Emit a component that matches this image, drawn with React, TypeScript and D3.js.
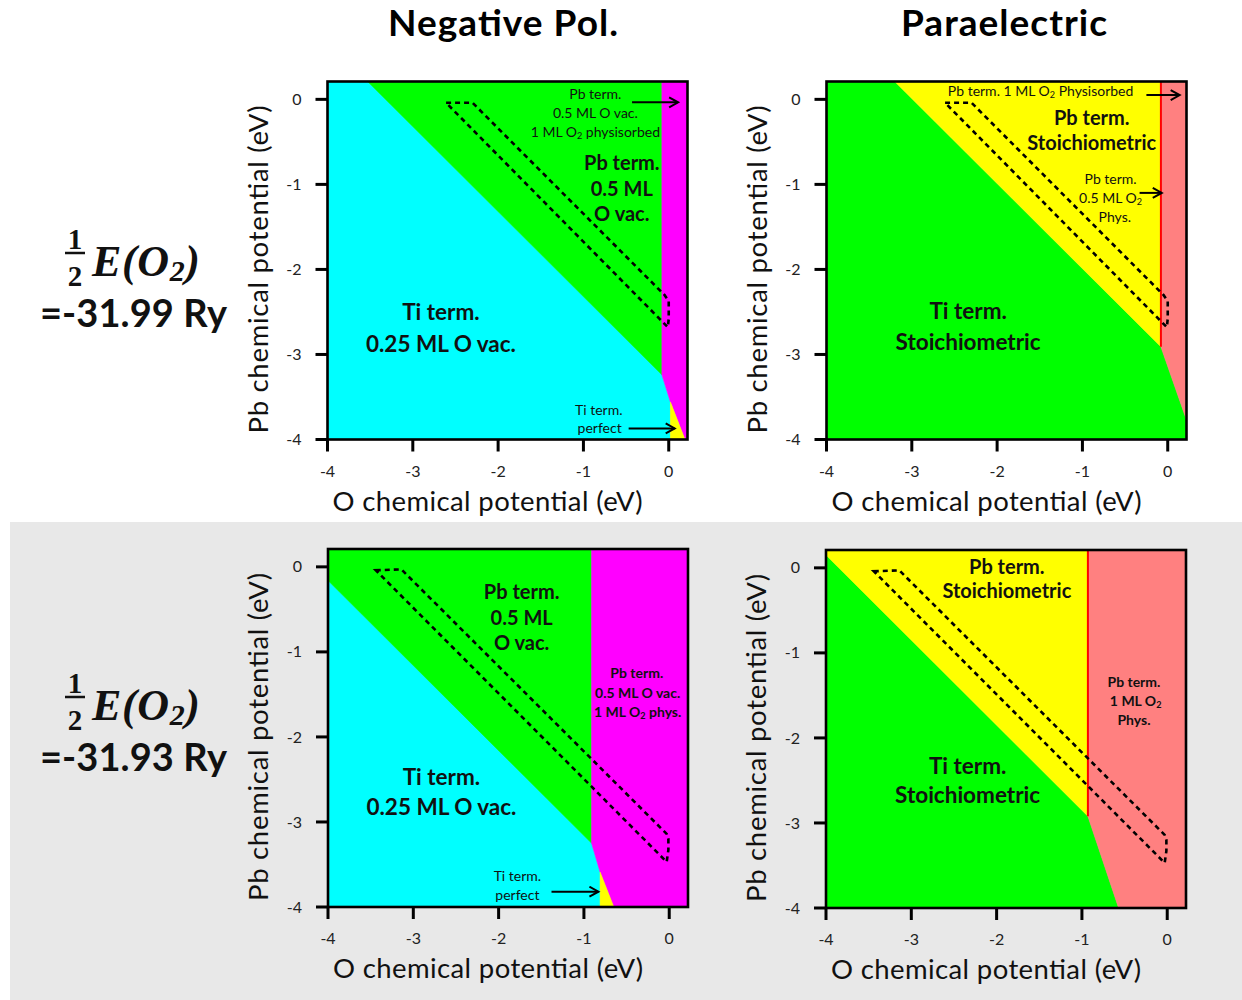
import * as d3 from 'd3'

type Pt = [number, number]

const X_TICKS = [-4, -3, -2, -1, 0]
const Y_TICKS = [-4, -3, -2, -1, 0]
const X_DOMAIN: Pt = [-4, 0.22]
const Y_DOMAIN: Pt = [-4, 0.21]

const COLUMN_TITLES = ['Negative Pol.', 'Paraelectric']
const O2_ENERGIES = ['=-31.99 Ry', '=-31.93 Ry']

const COLORS: Record<string, string> = {
  cyan: '#00FFFF',
  green: '#00FF00',
  magenta: '#FF00FF',
  yellow: '#FFFF00',
  salmon: '#FF8080',
}

// phase regions, points are [mu_O, mu_Pb] in eV
const NP_99_CYAN: Pt[] = [[-4, 0.21], [-3.53, 0.21], [-0.08, -3.24], [0.02, -3.56], [0.02, -4], [-4, -4]]
const NP_99_GREEN: Pt[] = [[-3.53, 0.21], [-0.08, 0.21], [-0.08, -3.24]]
const NP_99_MAGENTA: Pt[] = [[-0.08, 0.21], [0.22, 0.21], [0.22, -4], [0.19, -4], [0.02, -3.56], [-0.08, -3.24]]
const NP_99_YELLOW: Pt[] = [[0.02, -3.56], [0.19, -4], [0.02, -4]]

const PE_99_GREEN: Pt[] = [[-4, 0.21], [-3.2, 0.21], [-0.08, -2.91], [0.22, -3.77], [0.22, -4], [-4, -4]]
const PE_99_YELLOW: Pt[] = [[-3.2, 0.21], [-0.08, 0.21], [-0.08, -2.91]]
const PE_99_SALMON: Pt[] = [[-0.08, 0.21], [0.22, 0.21], [0.22, -3.77], [-0.08, -2.91]]
const PE_99_EDGE: Pt[] = [[-0.08, 0.21], [-0.08, -2.91]]

const NP_93_CYAN: Pt[] = [[-4, -0.16], [-0.91, -3.25], [-0.81, -3.59], [-0.81, -4], [-4, -4]]
const NP_93_GREEN: Pt[] = [[-4, 0.21], [-0.91, 0.21], [-0.91, -3.25], [-4, -0.16]]
const NP_93_MAGENTA: Pt[] = [[-0.91, 0.21], [0.22, 0.21], [0.22, -4], [-0.65, -4], [-0.81, -3.59], [-0.91, -3.25]]
const NP_93_YELLOW: Pt[] = [[-0.81, -3.59], [-0.65, -4], [-0.81, -4]]

const PE_93_GREEN: Pt[] = [[-4, 0.15], [-0.93, -2.92], [-0.57, -4], [-4, -4]]
const PE_93_YELLOW: Pt[] = [[-4, 0.21], [-0.93, 0.21], [-0.93, -2.92], [-4, 0.15]]
const PE_93_SALMON: Pt[] = [[-0.93, 0.21], [0.22, 0.21], [0.22, -4], [-0.57, -4], [-0.93, -2.92]]
const PE_93_EDGE: Pt[] = [[-0.93, 0.21], [-0.93, -2.92]]

// dashed stability window of bulk PbTiO3
const WINDOW_99: Pt[] = [[-2.61, -0.04], [-2.3, -0.04], [-0.05, -2.3], [0, -2.37], [0, -2.58], [-0.01, -2.68]]
const WINDOW_93: Pt[] = [[-3.44, -0.04], [-3.14, -0.03], [-0.03, -3.14], [-0.01, -3.2], [-0.01, -3.33], [-0.03, -3.47]]

type Label = { t: string; x: number; y: number; k: 'big' | 'mid' | 'small' | 'smallb' }
type Arrow = { x1: number; x2: number; y: number }

const NP_99_LABELS: Label[] = [
  { t: 'Pb term.', x: -0.86, y: 0.01, k: 'small' },
  { t: '0.5 ML O vac.', x: -0.86, y: -0.22, k: 'small' },
  { t: '1 ML O₂ physisorbed', x: -0.86, y: -0.44, k: 'small' },
  { t: 'Pb term.', x: -0.55, y: -0.83, k: 'mid' },
  { t: '0.5 ML', x: -0.55, y: -1.14, k: 'mid' },
  { t: 'O vac.', x: -0.55, y: -1.43, k: 'mid' },
  { t: 'Ti term.', x: -2.67, y: -2.6, k: 'big' },
  { t: '0.25 ML O vac.', x: -2.67, y: -2.97, k: 'big' },
  { t: 'Ti term.', x: -0.82, y: -3.71, k: 'small' },
  { t: 'perfect', x: -0.81, y: -3.92, k: 'small' },
]
const NP_99_ARROWS: Arrow[] = [
  { x1: -0.43, x2: 0.11, y: -0.035 },
  { x1: -0.47, x2: 0.07, y: -3.87 },
]

const PE_99_LABELS: Label[] = [
  { t: 'Pb term. 1 ML O₂ Physisorbed', x: -1.49, y: 0.04, k: 'small' },
  { t: 'Pb term.', x: -0.89, y: -0.3, k: 'mid' },
  { t: 'Stoichiometric', x: -0.89, y: -0.6, k: 'mid' },
  { t: 'Pb term.', x: -0.67, y: -0.99, k: 'small' },
  { t: '0.5 ML O₂', x: -0.67, y: -1.22, k: 'small' },
  { t: 'Phys.', x: -0.62, y: -1.44, k: 'small' },
  { t: 'Ti term.', x: -2.34, y: -2.58, k: 'big' },
  { t: 'Stoichiometric', x: -2.34, y: -2.95, k: 'big' },
]
const PE_99_ARROWS: Arrow[] = [
  { x1: -0.25, x2: 0.14, y: 0.05 },
  { x1: -0.33, x2: -0.07, y: -1.1 },
]

const NP_93_LABELS: Label[] = [
  { t: 'Pb term.', x: -1.73, y: -0.38, k: 'mid' },
  { t: '0.5 ML', x: -1.73, y: -0.68, k: 'mid' },
  { t: 'O vac.', x: -1.73, y: -0.98, k: 'mid' },
  { t: 'Pb term.', x: -0.38, y: -1.31, k: 'smallb' },
  { t: '0.5 ML O vac.', x: -0.37, y: -1.54, k: 'smallb' },
  { t: '1 ML O₂ phys.', x: -0.37, y: -1.76, k: 'smallb' },
  { t: 'Ti term.', x: -2.67, y: -2.57, k: 'big' },
  { t: '0.25 ML O vac.', x: -2.67, y: -2.92, k: 'big' },
  { t: 'Ti term.', x: -1.78, y: -3.7, k: 'small' },
  { t: 'perfect', x: -1.78, y: -3.92, k: 'small' },
]
const NP_93_ARROWS: Arrow[] = [{ x1: -1.38, x2: -0.83, y: -3.82 }]

const PE_93_LABELS: Label[] = [
  { t: 'Pb term.', x: -1.88, y: -0.07, k: 'mid' },
  { t: 'Stoichiometric', x: -1.88, y: -0.36, k: 'mid' },
  { t: 'Pb term.', x: -0.39, y: -1.4, k: 'smallb' },
  { t: '1 ML O₂', x: -0.37, y: -1.63, k: 'smallb' },
  { t: 'Phys.', x: -0.39, y: -1.85, k: 'smallb' },
  { t: 'Ti term.', x: -2.34, y: -2.42, k: 'big' },
  { t: 'Stoichiometric', x: -2.34, y: -2.77, k: 'big' },
]

const PANELS = [
  {
    left: 327.5, top: 81.5,
    regions: [
      { pts: NP_99_CYAN, c: 'cyan' }, { pts: NP_99_GREEN, c: 'green' },
      { pts: NP_99_MAGENTA, c: 'magenta' }, { pts: NP_99_YELLOW, c: 'yellow' },
    ],
    edge: null as Pt[] | null, window: WINDOW_99, labels: NP_99_LABELS, arrows: NP_99_ARROWS,
  },
  {
    left: 826.5, top: 81.5,
    regions: [
      { pts: PE_99_GREEN, c: 'green' }, { pts: PE_99_YELLOW, c: 'yellow' }, { pts: PE_99_SALMON, c: 'salmon' },
    ],
    edge: PE_99_EDGE, window: WINDOW_99, labels: PE_99_LABELS, arrows: PE_99_ARROWS,
  },
  {
    left: 328, top: 549,
    regions: [
      { pts: NP_93_CYAN, c: 'cyan' }, { pts: NP_93_GREEN, c: 'green' },
      { pts: NP_93_MAGENTA, c: 'magenta' }, { pts: NP_93_YELLOW, c: 'yellow' },
    ],
    edge: null, window: WINDOW_93, labels: NP_93_LABELS, arrows: NP_93_ARROWS,
  },
  {
    left: 826, top: 550,
    regions: [
      { pts: PE_93_GREEN, c: 'green' }, { pts: PE_93_YELLOW, c: 'yellow' }, { pts: PE_93_SALMON, c: 'salmon' },
    ],
    edge: PE_93_EDGE, window: WINDOW_93, labels: PE_93_LABELS, arrows: [] as Arrow[],
  },
]

const W = 360
const H = 358
const SANS = 'Lato, "Open Sans", sans-serif'
const SERIF = '"Liberation Serif", serif'

const LABEL_STYLE = {
  big: { size: 22.5, weight: 'bold' },
  mid: { size: 20, weight: 'bold' },
  small: { size: 14, weight: 'normal' },
  smallb: { size: 14, weight: 'bold' },
}

// split "O₂" so the 2 becomes a real subscript
function withSub(t: string, size: number) {
  const parts = t.split('₂')
  if (parts.length === 1) return t
  const out: any[] = []
  parts.forEach((s, i) => {
    if (s) out.push(<tspan key={'s' + i}>{s}</tspan>)
    if (i < parts.length - 1) {
      out.push(
        <tspan key={'b' + i} fontSize={size * 0.65} baselineShift="-20%">2</tspan>
      )
    }
  })
  return out
}

function Panel({ p }: { p: (typeof PANELS)[number] }) {
  const x = d3.scaleLinear().domain(X_DOMAIN).range([p.left, p.left + W])
  const y = d3.scaleLinear().domain(Y_DOMAIN).range([p.top + H, p.top])
  const line = d3.line<Pt>().x(d => x(d[0])).y(d => y(d[1]))
  const bottom = p.top + H

  return (
    <g>
      {p.regions.map((r, i) => (
        <path key={i} d={line(r.pts) + 'Z'} fill={COLORS[r.c]} stroke={COLORS[r.c]} strokeWidth={0.6} />
      ))}
      {p.edge && <path d={line(p.edge) || ''} stroke="#FF0000" strokeWidth={2} fill="none" />}
      <path d={line(p.window) + 'Z'} fill="none" stroke="#000" strokeWidth={2.6} strokeDasharray="5 4" />

      {p.labels.map((l, i) => {
        const st = LABEL_STYLE[l.k]
        return (
          <text key={i} x={x(l.x)} y={y(l.y)} textAnchor="middle" fontFamily={SANS}
            fontSize={st.size} fontWeight={st.weight} fill="#111">
            {withSub(l.t, st.size)}
          </text>
        )
      })}
      {p.arrows.map((a, i) => (
        <line key={i} x1={x(a.x1)} x2={x(a.x2)} y1={y(a.y)} y2={y(a.y)}
          stroke="#000" strokeWidth={2} markerEnd="url(#arrowhead)" />
      ))}

      <rect x={p.left} y={p.top} width={W} height={H} fill="none" stroke="#000" strokeWidth={2.6} />

      {X_TICKS.map(t => (
        <g key={'x' + t}>
          <line x1={x(t)} x2={x(t)} y1={bottom} y2={bottom + 12} stroke="#000" strokeWidth={3} />
          <text x={x(t)} y={bottom + 37} textAnchor="middle" fontFamily={SANS} fontSize={16} fill="#222">
            {t}
          </text>
        </g>
      ))}
      {Y_TICKS.map(t => (
        <g key={'y' + t}>
          <line x1={p.left - 12} x2={p.left} y1={y(t)} y2={y(t)} stroke="#000" strokeWidth={3} />
          <text x={p.left - 26} y={y(t)} dy="0.35em" textAnchor="end" fontFamily={SANS} fontSize={16} fill="#222">
            {t}
          </text>
        </g>
      ))}

      <text x={p.left + 160} y={bottom + 71} textAnchor="middle" fontFamily={SANS} fontSize={27.5}
        textLength={310} fill="#111">
        O chemical potential (eV)
      </text>
      <text transform={`translate(${p.left - 60},${p.top + 188}) rotate(-90)`} textAnchor="middle"
        fontFamily={SANS} fontSize={27.5} textLength={328} fill="#111">
        Pb chemical potential (eV)
      </text>
    </g>
  )
}

function O2Label({ bar, energy }: { bar: number; energy: string }) {
  return (
    <g fill="#111">
      <text x={75} y={bar - 4} textAnchor="middle" fontFamily={SERIF} fontWeight="bold" fontSize={29}>1</text>
      <line x1={65} x2={85} y1={bar} y2={bar} stroke="#111" strokeWidth={2.5} />
      <text x={75} y={bar + 33} textAnchor="middle" fontFamily={SERIF} fontWeight="bold" fontSize={29}>2</text>
      <text x={92} y={bar + 23} fontFamily={SERIF} fontWeight="bold" fontStyle="italic" fontSize={44}
        textLength={108}>
        E(O<tspan fontSize={30} baselineShift="-18%">2</tspan>)
      </text>
      <text x={40} y={bar + 74} fontFamily={SANS} fontWeight="bold" fontSize={38} textLength={187}>{energy}</text>
    </g>
  )
}

export default function App() {
  return (
    <svg width={1242} height={1000} style={{ position: 'absolute', left: 0, top: 0, background: '#fff' }}>
      <defs>
        <marker id="arrowhead" markerUnits="userSpaceOnUse" markerWidth={14} markerHeight={14}
          refX={10} refY={6} orient="auto">
          <path d="M1,1 L10,6 L1,11" fill="none" stroke="#000" strokeWidth={2} />
        </marker>
      </defs>
      <rect x={0} y={0} width={1242} height={1000} fill="#fff" />
      <rect x={10} y={522} width={1232} height={478} fill="#E8E8E8" />

      <text x={503} y={36} textAnchor="middle" fontFamily={SANS} fontWeight="bold" fontSize={37}
        textLength={230} fill="#000">
        {COLUMN_TITLES[0]}
      </text>
      <text x={1004} y={36} textAnchor="middle" fontFamily={SANS} fontWeight="bold" fontSize={37}
        textLength={206} fill="#000">
        {COLUMN_TITLES[1]}
      </text>

      <O2Label bar={253} energy={O2_ENERGIES[0]} />
      <O2Label bar={697} energy={O2_ENERGIES[1]} />

      {PANELS.map((p, i) => <Panel key={i} p={p} />)}
    </svg>
  )
}
